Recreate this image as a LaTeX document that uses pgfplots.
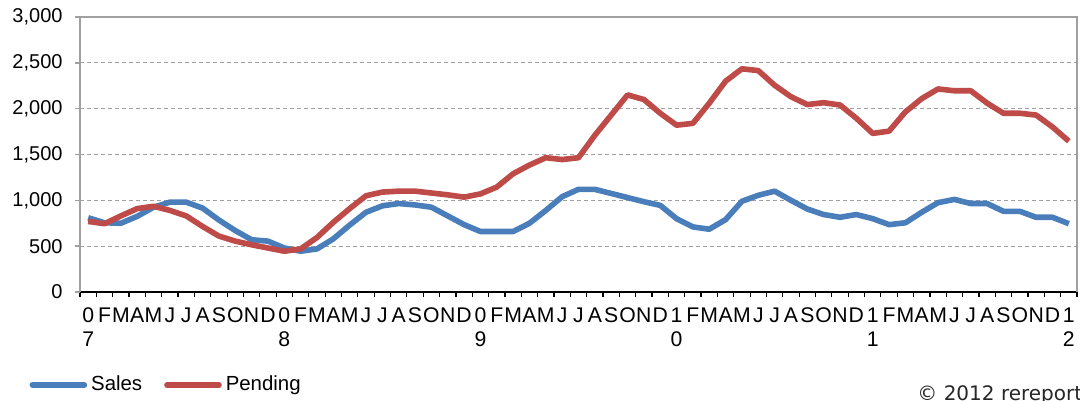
\documentclass[border=0pt]{standalone}
\usepackage{fontspec}
\setmainfont{Liberation Sans}
\newfontfamily\dejavu{DejaVu Sans}
\usepackage{pgfplots}
\pgfplotsset{compat=1.18}
\usepackage{pgfplotstable}
\definecolor{salesblue}{HTML}{4A7EBB}
\definecolor{pendred}{HTML}{BE4B48}
\definecolor{gridgray}{HTML}{A0A0A0}

\pgfplotstableread{
i sales pending
0 810 770
1 755 745
2 750 830
3 825 910
4 925 935
5 980 890
6 980 830
7 915 715
8 785 610
9 670 555
10 570 515
11 555 480
12 480 445
13 445 470
14 470 595
15 580 760
16 730 910
17 870 1050
18 940 1090
19 965 1100
20 950 1100
21 925 1080
22 830 1060
23 735 1035
24 660 1070
25 660 1145
26 660 1290
27 750 1385
28 890 1465
29 1040 1445
30 1120 1465
31 1120 1710
32 1075 1930
33 1030 2150
34 985 2100
35 945 1950
36 800 1820
37 710 1840
38 685 2060
39 790 2300
40 990 2435
41 1055 2415
42 1100 2255
43 1000 2130
44 905 2045
45 845 2065
46 815 2040
47 845 1895
48 800 1730
49 735 1755
50 755 1965
51 870 2110
52 975 2215
53 1010 2195
54 965 2195
55 965 2060
56 880 1950
57 880 1950
58 815 1930
59 815 1800
60 745 1645
}\datatable

\begin{document}
\begin{tikzpicture}
\begin{axis}[name=ax, scale only axis, width=498.5pt, height=137.5pt,
  xmin=-0.5, xmax=60.5, ymin=0, ymax=3000,
  axis x line=bottom, axis y line=left,
  x axis line style={-, black, line width=0.7pt},
  y axis line style={-, gridgray, line width=1pt},
  tick align=outside,
  major tick length=2.5pt, minor tick length=2.5pt,
  xtick={0,...,60},
  xticklabels={{0\\7},F,M,A,M,J,J,A,S,O,N,D,{0\\8},F,M,A,M,J,J,A,S,O,N,D,{0\\9},F,M,A,M,J,J,A,S,O,N,D,{1\\0},F,M,A,M,J,J,A,S,O,N,D,{1\\1},F,M,A,M,J,J,A,S,O,N,D,{1\\2}},
  minor xtick={-0.5,0.5,...,60.5},
  major x tick style={draw=none},
  minor x tick style={black, line width=0.6pt},
  ytick={0,500,...,3000},
  y tick style={gridgray, line width=0.7pt},
  scaled y ticks=false,
  /pgf/number format/assume math mode=true,
  /pgf/number format/1000 sep={,},
  yticklabel style={font=\fontsize{10}{12}\selectfont, xshift=-2.7pt},
  xticklabel style={font=\fontsize{10.6}{12}\selectfont, align=center, yshift=-1.8pt},
  ymajorgrids,
  major grid style={gridgray, line width=0.65pt, dash pattern=on 2pt off 1.5pt},
  legend columns=2,
  legend style={at={(axis description cs:-0.051,-0.338)}, anchor=west, draw=none, fill=none,
    font=\fontsize{10.2}{12}\selectfont, inner sep=0pt,
    nodes={inner xsep=2pt},
    /tikz/every even column/.append style={column sep=9pt}},
  legend image code/.code={\draw[#1, line cap=round] (0pt,0pt) -- (26pt,0pt);},
  clip=false,
]
\addplot[salesblue, line width=2.8pt, line join=round] table[x=i, y=sales] {\datatable};
\addlegendentry{Sales}
\addplot[pendred, line width=2.8pt, line join=round] table[x=i, y=pending] {\datatable};
\addlegendentry{Pending}
\draw[gridgray, line width=0.8pt] (rel axis cs:0,1) -- (rel axis cs:1,1) -- (rel axis cs:1,0);
\end{axis}
\node[anchor=base west, inner sep=0pt, font=\dejavu\fontsize{10}{12}\selectfont, text=black!85] at ([xshift=418.5pt, yshift=-54.3pt]ax.south west) {© 2012 rereport.com};
\pgfresetboundingbox
\path[use as bounding box] ([xshift=-40pt,yshift=-54pt]ax.south west) rectangle ([xshift=1.5pt,yshift=8.5pt]ax.north east);
\end{tikzpicture}
\end{document}
